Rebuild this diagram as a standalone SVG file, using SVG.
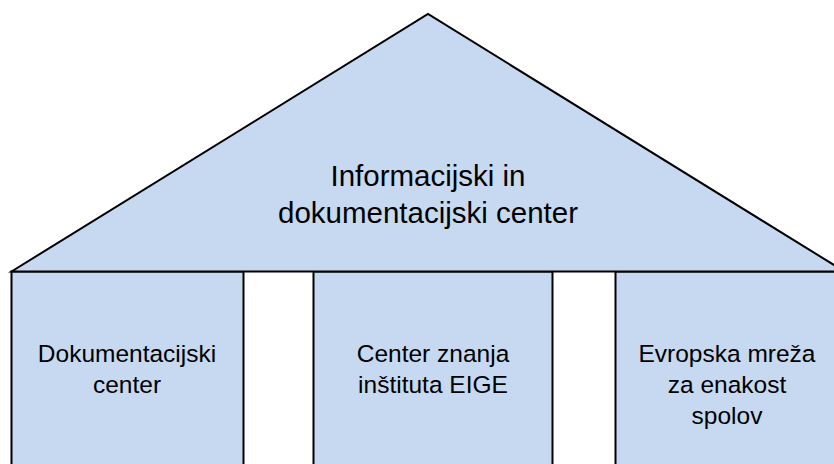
<svg xmlns="http://www.w3.org/2000/svg" width="834" height="464" viewBox="0 0 834 464">
<style>
.shape{fill:#C6D9F1;stroke:#000;stroke-width:2;stroke-linejoin:miter}
.t{font-family:"Liberation Sans",Arial,sans-serif;font-size:24.5px;fill:#000;text-anchor:middle}
.title{font-size:29.5px}
</style>
<rect width="834" height="464" fill="#fff"/>
<g id="box1">
<rect class="shape" x="11.5" y="271.5" width="232" height="200"/>
<text class="t" x="127" y="362">Dokumentacijski</text>
<text class="t" x="127" y="393">center</text>
</g>
<g id="box2">
<rect class="shape" x="313.5" y="271.5" width="239" height="200"/>
<text class="t" x="433" y="362">Center znanja</text>
<text class="t" x="433" y="393">inštituta EIGE</text>
</g>
<g id="box3">
<rect class="shape" x="615.5" y="271.5" width="230" height="200"/>
<text class="t" x="727" y="362">Evropska mreža</text>
<text class="t" x="727" y="393">za enakost</text>
<text class="t" x="727" y="424">spolov</text>
</g>
<g id="roof">
<polygon class="shape" points="11.5,271.5 428,14 844.5,271.5"/>
<text class="t title" x="428" y="186">Informacijski in</text>
<text class="t title" x="428" y="223">dokumentacijski center</text>
</g>
</svg>
